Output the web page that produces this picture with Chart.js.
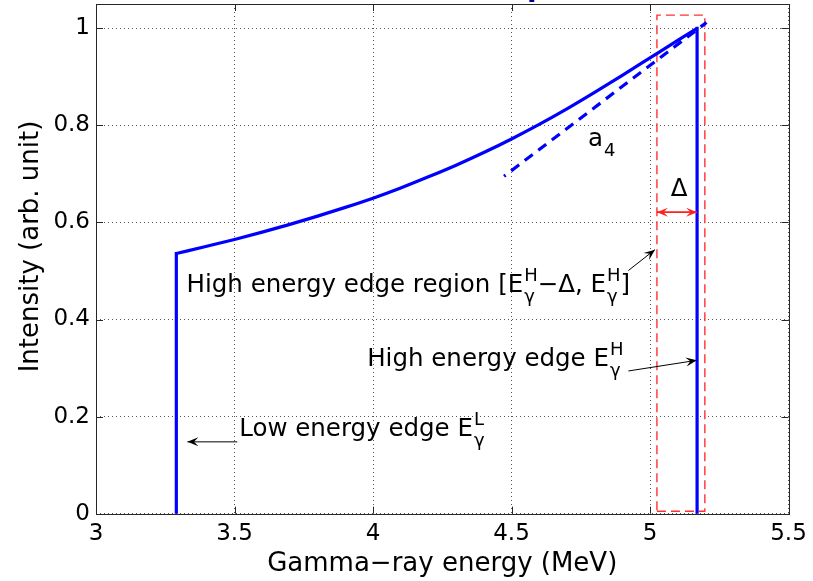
<!DOCTYPE html>
<html>
<head>
<meta charset="utf-8">
<script src="https://cdn.jsdelivr.net/npm/chart.js@4.4.1/dist/chart.umd.min.js"></script>
<style>
  html, body { margin: 0; padding: 0; background: #fff; }
  #wrap { width: 813px; height: 581px; }
</style>
</head>
<body>
<div id="wrap"><canvas id="c" width="813" height="581"></canvas></div>
<script>
// spectrum
const lowEdgeEnergy    = [3.29, 3.29]
const lowEdgeIntensity = [0, 0.536]
const energy    = [3.29, 3.4, 3.5, 3.6, 3.7, 3.8, 3.9, 4.0, 4.1, 4.2, 4.3, 4.4, 4.5, 4.6, 4.7, 4.8, 4.9, 5.0, 5.1, 5.17]
const intensity = [0.536, 0.551, 0.565, 0.580, 0.596, 0.613, 0.631, 0.650, 0.671, 0.694, 0.718, 0.744, 0.772, 0.802, 0.834, 0.868, 0.903, 0.939, 0.975, 1.0]
const highEdgeEnergy    = [5.17, 5.17]
const highEdgeIntensity = [1.0, 0]
// slope a4 at the high edge
const a4Energy    = [4.473, 5.204]
const a4Intensity = [0.695, 1.012]
// edge region box [E - delta, E]
const regionEnergy    = [5.025, 5.198, 5.198, 5.025, 5.025]
const regionIntensity = [0.005, 0.005, 1.027, 1.027, 0.005]
const deltaEnergy    = [5.025, 5.17]
const deltaIntensity = [0.621, 0.621]
// axes
const xTicks = [3, 3.5, 4, 4.5, 5, 5.5]
const yTicks = [0, 0.2, 0.4, 0.6, 0.8, 1]

const FONT = "'DejaVu Sans', Verdana, sans-serif"

const pts = (xs, ys) => xs.map((x, i) => ({x: x, y: ys[i]}))

// annotations, in data units
const notes = [
  {x: 3.327, y: 0.457, parts: [{t: 'High energy edge region ['}, {t: 'E', sup: 'H', sub: 'γ'}, {t: '−Δ, '}, {t: 'E', sup: 'H', sub: 'γ'}, {t: ']'}]},
  {x: 3.979, y: 0.304, parts: [{t: 'High energy edge '}, {t: 'E', sup: 'H', sub: 'γ'}]},
  {x: 3.517, y: 0.160, parts: [{t: 'Low energy edge '}, {t: 'E', sup: 'L', sub: 'γ'}]},
  {x: 4.776, y: 0.758, parts: [{t: 'a', sub: '4'}]},
  {x: 5.105, y: 0.654, parts: [{t: 'Δ'}], center: true}
]
const arrows = [
  {from: [4.922, 0.501], to: [5.018, 0.544], color: '#000'},
  {from: [4.922, 0.294], to: [5.169, 0.316], color: '#000'},
  {from: [3.510, 0.148], to: [3.330, 0.148], color: '#000'},
  {from: [5.025, 0.621], to: [5.17, 0.621], color: '#ff2020', both: true}
]

function head(ctx, x1, y1, x2, y2) {
  const a = Math.atan2(y2 - y1, x2 - x1)
  const L = 11, W = 4.5
  ctx.beginPath()
  ctx.moveTo(x2, y2)
  ctx.lineTo(x2 - L * Math.cos(a) + W * Math.sin(a), y2 - L * Math.sin(a) - W * Math.cos(a))
  ctx.lineTo(x2 - 0.6 * L * Math.cos(a), y2 - 0.6 * L * Math.sin(a))
  ctx.lineTo(x2 - L * Math.cos(a) - W * Math.sin(a), y2 - L * Math.sin(a) + W * Math.cos(a))
  ctx.closePath()
  ctx.fill()
}

function richText(ctx, x, y, parts, center) {
  const big = '24.5px ' + FONT, small = '18px ' + FONT
  let w = 0
  parts.forEach(p => {
    ctx.font = big
    let pw = ctx.measureText(p.t).width
    ctx.font = small
    let sw = Math.max(p.sup ? ctx.measureText(p.sup).width : 0, p.sub ? ctx.measureText(p.sub).width : 0)
    w += pw + sw
  })
  let cx = center ? x - w / 2 : x
  parts.forEach(p => {
    ctx.font = big
    ctx.fillText(p.t, cx, y)
    cx += ctx.measureText(p.t).width
    ctx.font = small
    let sw = 0
    if (p.sup) { ctx.fillText(p.sup, cx + 1, y - 11); sw = ctx.measureText(p.sup).width + 1 }
    if (p.sub) { ctx.fillText(p.sub, cx + 1, y + 10); sw = Math.max(sw, ctx.measureText(p.sub).width + 1) }
    cx += sw
  })
}

const decor = {
  id: 'decor',
  afterDatasetsDraw(chart) {
    const {ctx, chartArea: a, scales: {x, y}} = chart
    ctx.save()
    // box + inward ticks like matlab
    ctx.strokeStyle = '#262626'
    ctx.lineWidth = 1
    ctx.setLineDash([])
    ctx.strokeRect(Math.round(a.left) + 0.5, Math.round(a.top) + 0.5, Math.round(a.right - a.left), Math.round(a.bottom - a.top))
    ctx.beginPath()
    xTicks.forEach(v => {
      const px = Math.round(x.getPixelForValue(v)) + 0.5
      ctx.moveTo(px, a.bottom); ctx.lineTo(px, a.bottom - 7)
      ctx.moveTo(px, a.top); ctx.lineTo(px, a.top + 7)
    })
    yTicks.forEach(v => {
      const py = Math.round(y.getPixelForValue(v)) + 0.5
      ctx.moveTo(a.left, py); ctx.lineTo(a.left + 7, py)
      ctx.moveTo(a.right, py); ctx.lineTo(a.right - 7, py)
    })
    ctx.stroke()

    // arrows
    arrows.forEach(ar => {
      const x1 = x.getPixelForValue(ar.from[0]), y1 = y.getPixelForValue(ar.from[1])
      const x2 = x.getPixelForValue(ar.to[0]), y2 = y.getPixelForValue(ar.to[1])
      ctx.strokeStyle = ar.color
      ctx.fillStyle = ar.color
      ctx.lineWidth = ar.both ? 1.5 : 1
      ctx.beginPath(); ctx.moveTo(x1, y1); ctx.lineTo(x2, y2); ctx.stroke()
      head(ctx, x1, y1, x2, y2)
      if (ar.both) head(ctx, x2, y2, x1, y1)
    })

    // labels
    ctx.fillStyle = '#000'
    ctx.textBaseline = 'alphabetic'
    ctx.textAlign = 'left'
    notes.forEach(n => richText(ctx, x.getPixelForValue(n.x), y.getPixelForValue(n.y), n.parts, n.center))

    // axis titles
    ctx.font = '26px ' + FONT
    ctx.textAlign = 'center'
    ctx.fillText('Gamma−ray energy (MeV)', (a.left + a.right) / 2, 571)
    ctx.save()
    ctx.translate(38, 246.5)
    ctx.rotate(-Math.PI / 2)
    ctx.fillText('Intensity (arb. unit)', 0, 0)
    ctx.restore()

    // bottom of the (cropped) title above the axes
    ctx.fillStyle = '#00008b'
    ctx.textAlign = 'left'
    ctx.font = 'bold 28px ' + FONT
    ctx.fillText('p', 527, -4)
    ctx.restore()
  }
}

const line = (xs, ys, extra) => Object.assign({data: pts(xs, ys), borderColor: '#0000ff', borderWidth: 3.2, pointRadius: 0, tension: 0}, extra)

new Chart(document.getElementById('c'), {
  type: 'line',
  data: {
    datasets: [
      line(lowEdgeEnergy, lowEdgeIntensity, {borderCapStyle: 'square'}),
      line(energy, intensity, {cubicInterpolationMode: 'monotone'}),
      line(highEdgeEnergy, highEdgeIntensity, {borderCapStyle: 'square'}),
      line(a4Energy, a4Intensity, {borderDash: [10, 7], borderDashOffset: 8}),
      line(regionEnergy, regionIntensity, {borderColor: '#ff3030', borderWidth: 1.4, borderDash: [9, 5]}),
      line(deltaEnergy, deltaIntensity, {borderColor: '#ff2020', borderWidth: 1.5})
    ]
  },
  options: {
    responsive: false,
    animation: false,
    layout: {padding: {left: 0, right: 24.5, top: 4, bottom: 0}},
    plugins: {legend: {display: false}, tooltip: {enabled: false}},
    scales: {
      x: {
        type: 'linear', min: 3, max: 5.5,
        afterFit: s => { s.height = 67.3; s.paddingLeft = 0; s.paddingRight = 0 },
        afterBuildTicks: s => { s.ticks = xTicks.map(v => ({value: v})) },
        ticks: {font: {family: FONT, size: 23}, color: '#000', padding: 7, maxRotation: 0,
          callback: v => String(v)},
        grid: {color: '#555', lineWidth: 1, drawTicks: false},
        border: {display: false, dash: [1, 3]}
      },
      y: {
        type: 'linear', min: 0, max: 1.05,
        afterFit: s => { s.width = 96; s.paddingTop = 0; s.paddingBottom = 0 },
        afterBuildTicks: s => { s.ticks = yTicks.map(v => ({value: v})) },
        ticks: {font: {family: FONT, size: 23}, color: '#000', padding: 6,
          callback: v => String(v)},
        grid: {color: '#555', lineWidth: 1, drawTicks: false},
        border: {display: false, dash: [1, 3]}
      }
    }
  },
  plugins: [decor]
})
</script>
</body>
</html>
